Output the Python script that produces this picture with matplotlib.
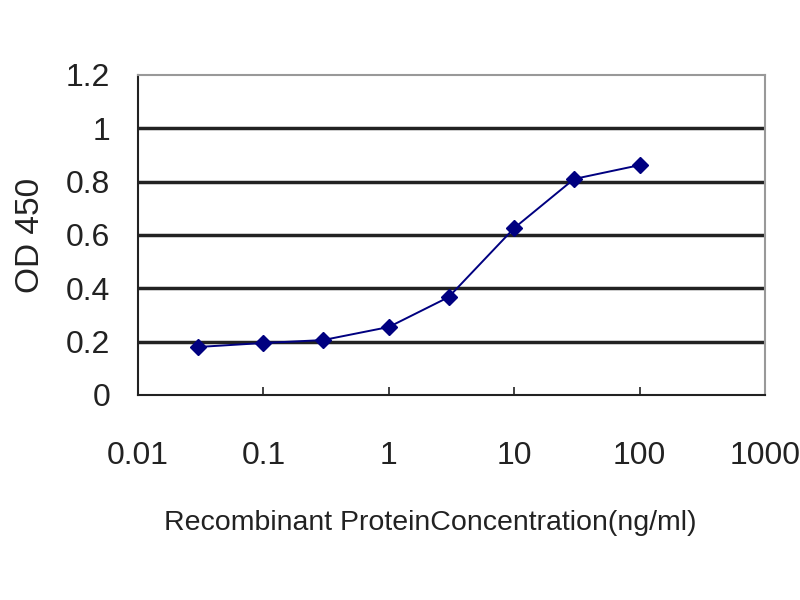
import numpy as np
import matplotlib.pyplot as plt

# Dados (ELISA, OD 450 vs concentração).
conc = [0.03, 0.1, 0.3, 1, 3, 10, 30, 100]
od450 = [0.18, 0.195, 0.206, 0.255, 0.367, 0.626, 0.81, 0.862]

xticks = [0.01, 0.1, 1, 10, 100, 1000]
xticklabels = ['0.01', '0.1', '1', '10', '100', '1000']
yticks = [0, 0.2, 0.4, 0.6, 0.8, 1, 1.2]
yticklabels = ['0', '0.2', '0.4', '0.6', '0.8', '1', '1.2']

plt.rcParams['font.family'] = ['Liberation Sans', 'DejaVu Sans']

fig = plt.figure(figsize=(8, 6), dpi=100)
ax = fig.add_axes([138/800, 1 - 395/600, (765-138)/800, (395-75)/600])

# Linhas de grade horizontais (estilo Excel).
for yv in yticks[1:-1]:
  ax.axhline(yv, color='#222222', linewidth=2.5, zorder=1)

ax.plot(conc, od450, color='#000080', linewidth=1.4, marker='D', markersize=8, zorder=3)

ax.set_xscale('log')
ax.set_xlim(0.01, 1000)
ax.set_ylim(0, 1.2)
ax.set_xticks(xticks)
ax.set_xticklabels(xticklabels)
ax.minorticks_off()
ax.set_yticks(yticks)
ax.set_yticklabels(yticklabels)
ax.tick_params(axis='both', labelsize=23, colors='#222222', direction='in', length=6, width=1.2)
ax.tick_params(axis='x', pad=33)
ax.tick_params(axis='y', pad=20)

for s in ['top', 'right']:
  ax.spines[s].set_color('#999999')
  ax.spines[s].set_linewidth(1.5)
for s in ['left', 'bottom']:
  ax.spines[s].set_color('#222222')
  ax.spines[s].set_linewidth(1.5)

ax.set_xlabel('Recombinant ProteinConcentration(ng/ml)', fontsize=20.5, color='#222222')
ax.xaxis.set_label_coords((430-138)/(765-138), -(523-395)/(395-75))
ax.xaxis.label.set_va('center')
ax.set_ylabel('OD 450', fontsize=24, color='#222222', labelpad=14)

fig.savefig('out.png', dpi=100)
